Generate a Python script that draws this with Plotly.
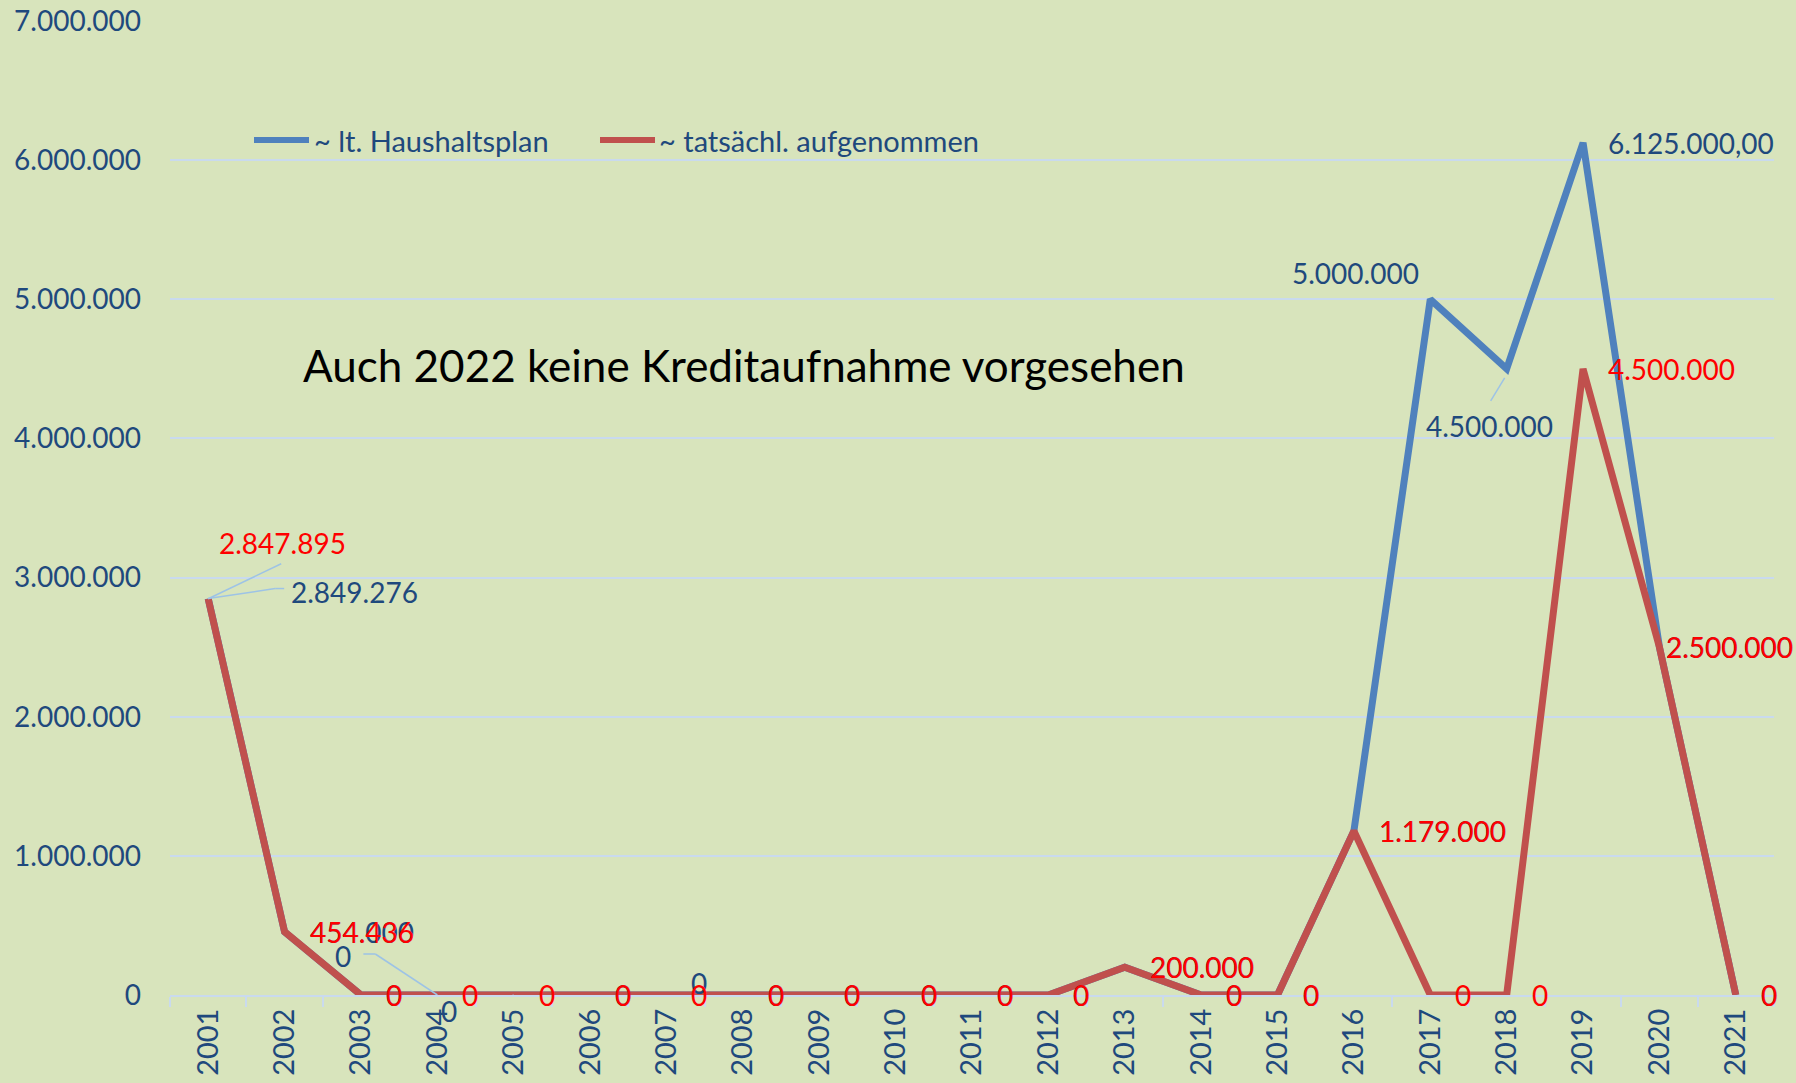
import plotly.graph_objects as go

years = list(range(2001, 2022))
plan = [2849276, 454000, 0, 0, 0, 0, 0, 0, 0, 0, 0, 0, 200000, 0, 0, 1179000,
        5000000, 4500000, 6125000, 2500000, 0]
actual = [2847895, 454436, 0, 0, 0, 0, 0, 0, 0, 0, 0, 0, 200000, 0, 0, 1179000,
          0, 0, 4500000, 2500000, 0]
y_ticks = [0, 1000000, 2000000, 3000000, 4000000, 5000000, 6000000, 7000000]
name_plan = "~ lt. Haushaltsplan"
name_actual = "~ tatsächl. aufgenommen"
note = "Auch 2022 keine Kreditaufnahme vorgesehen"

BG = "#D8E4BC"
BLUE = "#4F81BD"
RED = "#C0504D"
TXT = "#1F497D"
LBL_RED = "#FF0000"
GRID = "#C9DAEE"
LEAD = "#9DC3E6"
FONT = "Lato"
FS = 28

L, R, T, B = 170, 22, 21, 88
W, H = 1796, 1083


def de(v):
    return f"{v:,.0f}".replace(",", ".")


fig = go.Figure()
fig.add_trace(go.Scatter(x=years, y=plan, mode="lines", name=name_plan,
                         line=dict(color=BLUE, width=7), showlegend=False))
fig.add_trace(go.Scatter(x=years, y=actual, mode="lines", name=name_actual,
                         line=dict(color=RED, width=7), showlegend=False))

ann = []
shapes = []

# special placements: (xanchor, xshift, yshift)
plan_special = {
    2001: ("center", 146, 7),
    2004: ("center", -94, 39),
    2005: ("center", -65, -16),
    2007: ("left", 23, 12),
    2017: ("center", -75, 26),
    2018: ("center", -17, -57),
    2020: ("left", 5, 0),
}
actual_special = {
    2001: ("center", 74, 56),
    2020: ("left", 5, 0),
}

for yr, v in zip(years, plan):
    txt = "6.125.000,00" if yr == 2019 else de(v)
    xa, xs, ys = plan_special.get(yr, ("left", 23, 0))
    ann.append(dict(x=yr, y=v, xref="x", yref="y", text=txt, showarrow=False,
                    xanchor=xa, yanchor="middle", xshift=xs, yshift=ys,
                    font=dict(family=FONT, size=FS, color=TXT)))

for yr, v in zip(years, actual):
    xa, xs, ys = actual_special.get(yr, ("left", 23, 0))
    ann.append(dict(x=yr, y=v, xref="x", yref="y", text=de(v), showarrow=False,
                    xanchor=xa, yanchor="middle", xshift=xs, yshift=ys,
                    font=dict(family=FONT, size=FS, color=LBL_RED)))


def leader(yr, val, pts):
    for (x0, y0), (x1, y1) in zip(pts[:-1], pts[1:]):
        shapes.append(dict(type="line", xref="x", yref="y",
                           xsizemode="pixel", ysizemode="pixel",
                           xanchor=yr, yanchor=val,
                           x0=x0, y0=y0, x1=x1, y1=y1,
                           line=dict(color=LEAD, width=1.5)))


leader(2001, plan[0], [(0, 0), (67, 10), (76, 10)])
leader(2001, actual[0], [(0, 0), (73, 35)])
leader(2004, plan[3], [(0, 0), (-62, 41), (-74, 41)])
leader(2005, plan[4], [(0, 0), (-33, -17), (-47, -17)])
leader(2018, plan[17], [(-2, -9), (-16, -32)])

# legend drawn manually
base_y = H - B
for (x0, x1, tx, col, nm) in [(254, 309, 312, BLUE, name_plan),
                              (600, 655, 657, RED, name_actual)]:
    shapes.append(dict(type="line", xref="paper", yref="paper",
                       xsizemode="pixel", ysizemode="pixel", xanchor=0, yanchor=0,
                       x0=x0 - L, x1=x1 - L, y0=base_y - 140, y1=base_y - 140,
                       line=dict(color=col, width=6)))
    ann.append(dict(x=0, y=0, xref="paper", yref="paper", xshift=tx - L,
                    yshift=base_y - 140, text=nm, showarrow=False,
                    xanchor="left", yanchor="middle",
                    font=dict(family=FONT, size=29, color=TXT)))

ann.append(dict(x=0, y=0, xref="paper", yref="paper",
                xshift=744 - L, yshift=base_y - 365,
                text=note, showarrow=False,
                xanchor="center", yanchor="middle",
                font=dict(family=FONT, size=44, color="#000000")))

fig.update_layout(
    width=W, height=H,
    margin=dict(l=L, r=R, t=T, b=B),
    paper_bgcolor=BG, plot_bgcolor=BG,
    separators=",.",
    annotations=ann, shapes=shapes,
    showlegend=False,
    font=dict(family=FONT, color=TXT),
)
fig.update_xaxes(type="linear", tickmode="linear", tick0=2001, dtick=1,
                 tickformat="d", ticks="", automargin=False,
                 minor=dict(tickmode="linear", tick0=2000.5, dtick=1,
                            ticks="outside", ticklen=10, tickcolor=GRID,
                            tickwidth=1.5, showgrid=False),
                 showline=True, linecolor=GRID, linewidth=2,
                 showgrid=False, zeroline=False, tickangle=-90,
                 tickfont=dict(family=FONT, size=29, color=TXT),
                 range=[2000.5, 2021.5])
fig.update_yaxes(range=[0, 7000000], tickvals=y_ticks,
                 ticktext=[de(v) for v in y_ticks], automargin=False,
                 showgrid=True, gridcolor=GRID, gridwidth=2,
                 zeroline=False, showline=False, ticks="",
                 ticklabelstandoff=28,
                 tickfont=dict(family=FONT, size=FS, color=TXT))

fig.write_html("out.html", config={"displayModeBar": False},
               post_script="document.body.style.margin='0';")
